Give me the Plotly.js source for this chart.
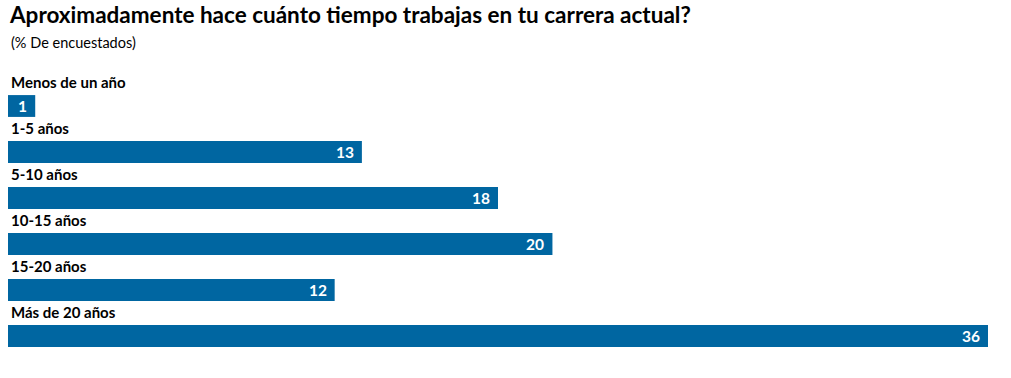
<!DOCTYPE html>
<html>
<head>
<meta charset="utf-8">
<script src="https://cdn.plot.ly/plotly-3.0.1.min.js"></script>
<style>html,body{margin:0;padding:0;background:#fff;}#chart{width:1011px;height:378px;}</style>
</head>
<body>
<div id="chart"></div>
<script>
const categories = ["Menos de un año", "1-5 años", "5-10 años", "10-15 años", "15-20 años", "Más de 20 años"];
const values = [1, 13, 18, 20, 12, 36];
const titleText = "Aproximadamente hace cuánto tiempo trabajas en tu carrera actual?";
const subtitleText = "(% De encuestados)";

const FONT = "Lato, 'Open Sans', sans-serif";
const BAR = "#0066a1";

const trace = {
  type: "bar",
  orientation: "h",
  x: values,
  y: categories,
  marker: {color: BAR},
  width: 0.475,
  hoverinfo: "none"
};

const annotations = [];
categories.forEach((c, i) => {
  annotations.push({
    x: 0, y: c, xref: "x", yref: "y",
    text: "<b>" + c + "</b>", showarrow: false,
    xanchor: "left", yanchor: "middle", xshift: 1, yshift: 24,
    font: {family: FONT, size: 15, color: "#000"}
  });
  annotations.push({
    x: values[i], y: c, xref: "x", yref: "y",
    text: "<b>" + values[i] + "</b>", showarrow: false,
    xanchor: "right", yanchor: "middle", xshift: -6, yshift: 0,
    font: {family: FONT, size: 15.5, color: "#fff"}
  });
});
annotations.push({
  x: 0, y: 1.145, xref: "paper", yref: "paper",
  text: subtitleText, showarrow: false,
  xanchor: "left", yanchor: "middle", xshift: 1,
  font: {family: FONT, size: 14.5, color: "#000"}
});

const layout = {
  width: 1011, height: 378,
  margin: {l: 8, r: 23, t: 83, b: 19},
  paper_bgcolor: "#fff", plot_bgcolor: "#fff",
  showlegend: false,
  title: {
    text: "<b>" + titleText + "</b>",
    x: 10/1011, xref: "container", xanchor: "left",
    y: 1 - 7/378, yref: "container", yanchor: "top",
    font: {family: FONT, size: 22.5, color: "#000"}
  },
  xaxis: {range: [0, 36], visible: false, fixedrange: true},
  yaxis: {type: "category", range: [5.5, -0.5], autorange: false, visible: false, fixedrange: true},
  annotations: annotations
};

Plotly.newPlot("chart", [trace], layout, {displayModeBar: false, staticPlot: true});
</script>
</body>
</html>
